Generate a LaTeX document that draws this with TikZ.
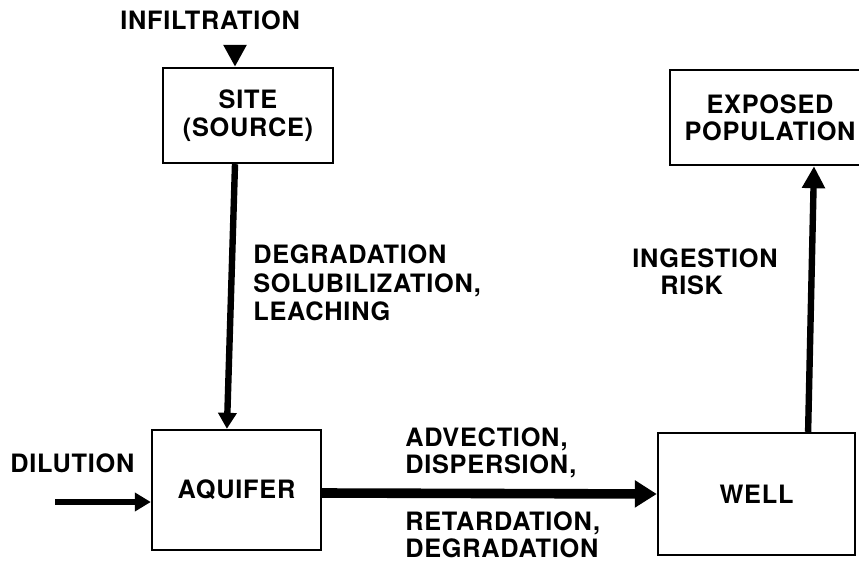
\documentclass[tikz,border=0pt]{standalone}
\usepackage{fontspec}
\setmainfont[LetterSpace=3]{TeX Gyre Heros}
\usetikzlibrary{arrows.meta,positioning}
\tikzset{flow/.style = {
    line width=1.6mm,
    -{Triangle[length=4mm, width=4.5mm]},
  }
}

\begin{document}
\begin{tikzpicture}[x=0.25mm, y=-0.25mm, font=\fontsize{18}{19.5}\selectfont\bfseries]
  % vertices
  \tikzstyle{block} = [rectangle, draw, line width=0.6mm, align=center]
  \tikzstyle{note} = [inner sep=0pt, align=left, anchor=west]

  \useasboundingbox[fill=white] (0,0) rectangle (859,562);

  \node[block, minimum width=42.5mm, minimum height=23.75mm] (site) at (248,115.5) {SITE\\(SOURCE)};
  \node[block, minimum width=42.25mm, minimum height=30mm] (aquifer) at (236.5,490) {AQUIFER};
  \node[block, minimum width=49.25mm, minimum height=30.5mm] (well) at (756.5,494) {WELL};
  \node[block, minimum width=50mm, minimum height=23.75mm] (exposed) at (770,117.5) {EXPOSED\\POPULATION};

  \node[note] (infiltration) at (120,20) {INFILTRATION};
  \node[note] (dilution) at (10,463) {DILUTION};
  \node[note, font=\fontsize{18}{20.2}\selectfont\bfseries] (leaching) at (253,283) {DEGRADATION\\SOLUBILIZATION,\\LEACHING};
  \node[note] (ingestion) at (632,272) {INGESTION\\\hspace*{7mm}RISK};
  \node[note] (advection) at (405,453) {ADVECTION,\\DISPERSION,};
  \node[note] (retardation) at (405,534.5) {RETARDATION,\\DEGRADATION};

  % edges
  \coordinate (inflow) at (235,45);
  \coordinate (dilflow) at (55,502);
  \draw[flow, -{Triangle[length=5.5mm, width=5.5mm]}] (inflow) -- (inflow |- site.north);
  \draw[flow] ([xshift=-3.25mm]site.south) -- ([xshift=-2.4mm]aquifer.north);
  \draw[flow] (dilflow) -- (dilflow -| aquifer.west);
  \draw[flow, line width=2.4mm, -{Triangle[length=5.5mm, width=6.5mm]}] ([yshift=-0.75mm]aquifer.east) -- (well.west);
  \draw[flow, -{Triangle[length=5.5mm, width=5.5mm]}] ([xshift=12.9mm]well.north) -- ([xshift=11mm]exposed.south);
\end{tikzpicture}
\end{document}
